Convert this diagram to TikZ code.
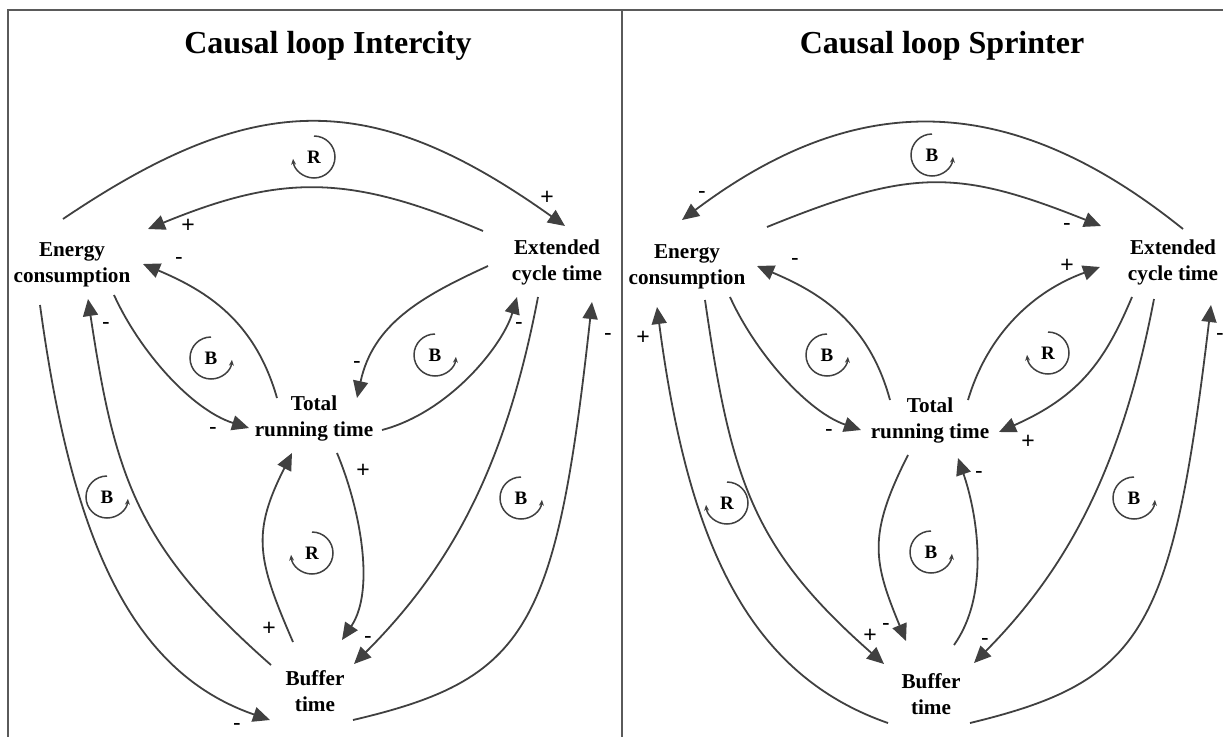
\documentclass[tikz,border=0pt]{standalone}
\usepackage{fontspec}
\setmainfont{Liberation Serif}
\newfontfamily\signfont{Liberation Sans}
\usetikzlibrary{arrows.meta,calc}
\definecolor{linkgray}{HTML}{404040}
\definecolor{framegray}{HTML}{5A5A5A}

\begin{document}
\begin{tikzpicture}[x=1pt,y=-1pt,
  concept/.style={font=\fontsize{21.2}{26}\selectfont\bfseries, align=center, inner sep=0pt},
  heading/.style={font=\fontsize{32}{36}\selectfont\bfseries, anchor=base, inner sep=0pt},
  link/.style={draw=linkgray, line width=1.8pt, -{Triangle[length=17pt,width=15pt]}},
  sign/.style={font=\signfont\fontsize{23}{23}\selectfont, inner sep=0pt},
  looptag/.style={font=\fontsize{19}{19}\selectfont\bfseries, inner sep=0pt},
  looparc/.style={draw=linkgray, line width=1.5pt, -{Stealth[length=6pt,width=5pt]}},
  frameline/.style={draw=framegray, line width=2pt},
]
\useasboundingbox (0,0) rectangle (1223,736);

% frame and panel divider
\draw[frameline] (8,745) -- (8,10) -- (1230,10);
\draw[frameline] (621.5,10) -- (621.5,745);

% headings
\node[heading] (tL) at (328,53) {Causal loop Intercity};
\node[heading] (tR) at (942,53) {Causal loop Sprinter};

% ---------------- Intercity ----------------
\node[concept] (LE) at (72,264)  {\strut Energy\\\strut consumption};
\node[concept] (LX) at (557,262) {\strut Extended\\\strut cycle time};
\node[concept] (LT) at (314,418) {\strut Total\\\strut running time};
\node[concept] (LB) at (315,693) {\strut Buffer\\\strut time};

\draw[link] ($(LE)+(-9,-45)$) .. controls (256,88.5) and (372,88.5) .. ($(LX)+(8,-36)$);
\draw[link] ($(LX)+(-74,-31)$) .. controls (349,174) and (282,174) .. ($(LE)+(76,-35)$);
\draw[link] ($(LT)+(-37,-20)$) .. controls (255,321) and (207,291) .. ($(LE)+(71,0)$);
\draw[link] ($(LE)+(42,31)$) .. controls (140,352) and (192,410) .. ($(LT)+(-65,10)$);
\draw[link] ($(LX)+(-69,4)$) .. controls (420,297) and (373,324.5) .. ($(LT)+(43,-20)$);
\draw[link] ($(LT)+(68,12)$) .. controls (450,412) and (503,345) .. ($(LX)+(-40,35)$);
\draw[link] ($(LB)+(38,27)$) .. controls (528,679) and (556,629) .. ($(LX)+(35,40)$);
\draw[link] ($(LX)+(-19,35)$) .. controls (506,464) and (453,565) .. ($(LB)+(39,-29)$);
\draw[link] ($(LE)+(-32,41)$) .. controls (71,533) and (128,671) .. ($(LB)+(-45,27)$);
\draw[link] ($(LB)+(-44,-28)$) .. controls (136,546) and (115,477) .. ($(LE)+(16,35)$);
\draw[link] ($(LT)+(23,35)$) .. controls (360,508) and (375.6,590) .. ($(LB)+(27,-53)$);
\draw[link] ($(LB)+(-22,-51)$) .. controls (257,559) and (251.5,533) .. ($(LT)+(-22,35)$);

\node[sign] (sL1)  at (547,198) {+};
\node[sign] (sL2)  at (188,226) {+};
\node[sign] (sL3)  at (179,261) {-};
\node[sign] (sL4)  at (106,326) {-};
\node[sign] (sL5)  at (357,365) {-};
\node[sign] (sL6)  at (519,326) {-};
\node[sign] (sL7)  at (608,337) {-};
\node[sign] (sL8)  at (213,431) {-};
\node[sign] (sL9)  at (363,471) {+};
\node[sign] (sL10) at (269,629) {+};
\node[sign] (sL11) at (368,640) {-};
\node[sign] (sL12) at (237,727) {-};

\node[looptag] (lpL1) at (314,157) {R};
\draw[looparc] ([shift={(0,-21)}]lpL1.center) arc[start angle=-90, end angle=175, radius=21];
\node[looptag] (lpL2) at (211,358) {B};
\draw[looparc] ([shift={(0,-21)}]lpL2.center) arc[start angle=-90, end angle=-355, radius=21];
\node[looptag] (lpL3) at (435,355) {B};
\draw[looparc] ([shift={(0,-21)}]lpL3.center) arc[start angle=-90, end angle=-355, radius=21];
\node[looptag] (lpL4) at (107,497) {B};
\draw[looparc] ([shift={(0,-21)}]lpL4.center) arc[start angle=-90, end angle=-355, radius=21];
\node[looptag] (lpL5) at (521,498) {B};
\draw[looparc] ([shift={(0,-21)}]lpL5.center) arc[start angle=-90, end angle=-355, radius=21];
\node[looptag] (lpL6) at (312,553) {R};
\draw[looparc] ([shift={(0,-21)}]lpL6.center) arc[start angle=-90, end angle=175, radius=21];

% ---------------- Sprinter ----------------
\node[concept] (RE) at (687,266)  {\strut Energy\\\strut consumption};
\node[concept] (RX) at (1173,262) {\strut Extended\\\strut cycle time};
\node[concept] (RT) at (930,420)  {\strut Total\\\strut running time};
\node[concept] (RB) at (931,696)  {\strut Buffer\\\strut time};

\draw[link] ($(RX)+(10,-33)$) .. controls (1009,89) and (856,89) .. ($(RE)+(-5,-46)$);
\draw[link] ($(RE)+(80,-39)$) .. controls (911,168.5) and (957,168.5) .. ($(RX)+(-72,-36)$);
\draw[link] ($(RT)+(-40,-20)$) .. controls (869,323) and (821,293) .. ($(RE)+(70,0)$);
\draw[link] ($(RE)+(43,31)$) .. controls (756,354) and (808,412) .. ($(RT)+(-69,10)$);
\draw[link] ($(RT)+(38,-20)$) .. controls (988,333) and (1034,291) .. ($(RX)+(-73,5)$);
\draw[link] ($(RX)+(-41,35)$) .. controls (1105,361) and (1080,396) .. ($(RT)+(69,12)$);
\draw[link] ($(RT)+(-22,35)$) .. controls (867.5,535) and (873,561) .. ($(RB)+(-25,-55)$);
\draw[link] ($(RB)+(23,-51)$) .. controls (991.6,592) and (976,510) .. ($(RT)+(28,38)$);
\draw[link] ($(RE)+(18,34)$) .. controls (731,479) and (752,548) .. ($(RB)+(-47,-32)$);
\draw[link] ($(RB)+(-43,27)$) .. controls (744,673) and (687,535) .. ($(RE)+(-30,41)$);
\draw[link] ($(RX)+(-19,37)$) .. controls (1122,466) and (1069,567) .. ($(RB)+(43,-33)$);
\draw[link] ($(RB)+(39,27)$) .. controls (1144,681) and (1172,631) .. ($(RX)+(38,43)$);

\node[sign] (sR1)  at (702,195)  {-};
\node[sign] (sR2)  at (1067,227) {-};
\node[sign] (sR3)  at (795,262)  {-};
\node[sign] (sR4)  at (643,338)  {+};
\node[sign] (sR5)  at (1067,266) {+};
\node[sign] (sR6)  at (1028,442) {+};
\node[sign] (sR7)  at (829,433)  {-};
\node[sign] (sR8)  at (979,475)  {-};
\node[sign] (sR9)  at (870,636)  {+};
\node[sign] (sR10) at (886,627)  {-};
\node[sign] (sR11) at (985,642)  {-};
\node[sign] (sR12) at (1220,337) {-};

\node[looptag] (lpR1) at (932,155) {B};
\draw[looparc] ([shift={(0,-21)}]lpR1.center) arc[start angle=-90, end angle=-355, radius=21];
\node[looptag] (lpR2) at (827,355) {B};
\draw[looparc] ([shift={(0,-21)}]lpR2.center) arc[start angle=-90, end angle=-355, radius=21];
\node[looptag] (lpR3) at (1048,353) {R};
\draw[looparc] ([shift={(0,-21)}]lpR3.center) arc[start angle=-90, end angle=175, radius=21];
\node[looptag] (lpR4) at (727,503) {R};
\draw[looparc] ([shift={(0,-21)}]lpR4.center) arc[start angle=-90, end angle=175, radius=21];
\node[looptag] (lpR5) at (931,552) {B};
\draw[looparc] ([shift={(0,-21)}]lpR5.center) arc[start angle=-90, end angle=-355, radius=21];
\node[looptag] (lpR6) at (1134,498) {B};
\draw[looparc] ([shift={(0,-21)}]lpR6.center) arc[start angle=-90, end angle=-355, radius=21];

\end{tikzpicture}
\end{document}
